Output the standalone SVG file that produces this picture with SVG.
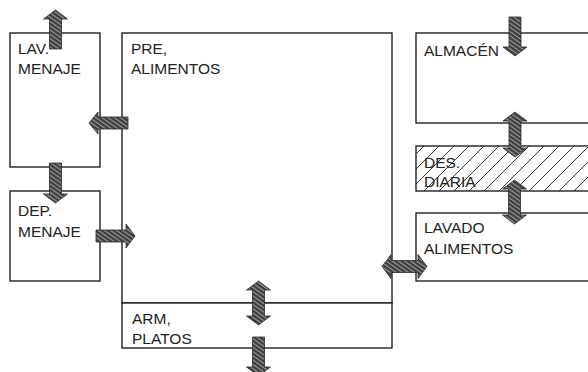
<svg xmlns="http://www.w3.org/2000/svg" width="588" height="372" viewBox="0 0 588 372">
<defs>
<pattern id="hatch" patternUnits="userSpaceOnUse" width="15" height="15">
<path d="M-2,17 L17,-2 M-2,2 L2,-2 M13,17 L17,13" stroke="#333" stroke-width="1"/>
</pattern>
<pattern id="arrhatch" patternUnits="userSpaceOnUse" width="3.5" height="3.5" patternTransform="rotate(-55)">
<rect width="3.5" height="3.5" fill="#3c3c3c"/>
<rect width="1.2" height="3.5" fill="#9a9a9a"/>
</pattern>
<style>
.box{fill:#fff;stroke:#111;stroke-width:1.3}
.hbox{fill:url(#hatch);stroke:#111;stroke-width:1.3}
.lbl{font-family:"Liberation Sans",Arial,sans-serif;font-size:15.5px;fill:#222}
.arr{fill:url(#arrhatch);stroke:#2a2a2a;stroke-width:0.8;stroke-linejoin:round}
</style>
</defs>
<rect width="588" height="372" fill="#fff"/>
<g id="lav-menaje">
<rect class="box" x="10" y="33" width="90" height="134"/>
<text class="lbl" x="18" y="53.5">LAV.</text>
<text class="lbl" x="18" y="74">MENAJE</text>
</g>
<g id="dep-menaje">
<rect class="box" x="10" y="191" width="90" height="90"/>
<text class="lbl" x="18" y="216">DEP.</text>
<text class="lbl" x="18" y="236.5">MENAJE</text>
</g>
<g id="pre-alimentos">
<rect class="box" x="122" y="33" width="270" height="270"/>
<text class="lbl" x="131" y="53.5">PRE,</text>
<text class="lbl" x="131" y="74">ALIMENTOS</text>
</g>
<g id="arm-platos">
<rect class="box" x="122" y="303" width="270" height="45"/>
<text class="lbl" x="132" y="323.5">ARM,</text>
<text class="lbl" x="132" y="343.5">PLATOS</text>
</g>
<g id="almacen">
<rect class="box" x="416" y="33" width="180" height="90"/>
<text class="lbl" x="424" y="56">ALMACÉN</text>
</g>
<g id="des-diaria">
<rect class="hbox" x="416" y="146" width="180" height="45"/>
<text class="lbl" x="424" y="167.5">DES.</text>
<text class="lbl" x="424" y="187">DIARIA</text>
</g>
<g id="lavado-alimentos">
<rect class="box" x="416" y="213" width="180" height="68"/>
<text class="lbl" x="424" y="233">LAVADO</text>
<text class="lbl" x="424" y="254">ALIMENTOS</text>
</g>
<g id="connectors">
<path class="arr" d="M49.500,49 H61.500 V19 H67.500 L55.500,10 L43.500,19 H49.500 Z"/>
<path class="arr" d="M128,117 V129 H98 V134 L89,123 L98,112 V117 Z"/>
<path class="arr" d="M49.500,163 H61.500 V194 H67.500 L55.500,203 L43.500,194 H49.500 Z"/>
<path class="arr" d="M96,230 H126 V224 L135,236 L126,248 V242 H96 Z"/>
<path class="arr" d="M258.500,281 L270.500,290 H264.500 V316 H270.500 L258.500,325 L246.500,316 H252.500 V290 H246.500 Z"/>
<path class="arr" d="M252.500,337 H264.500 V367 H270.500 L258.500,376 L246.500,367 H252.500 Z"/>
<path class="arr" d="M382,266.500 L391,254.500 V260.500 H418 V254.500 L427,266.500 L418,278.500 V272.500 H391 V278.500 Z"/>
<path class="arr" d="M509,17 H521 V47 H527 L515,56 L503,47 H509 Z"/>
<path class="arr" d="M515,112 L527,121 H521 V148 H527 L515,157 L503,148 H509 V121 H503 Z"/>
<path class="arr" d="M514.500,180 L526.500,189 H520.500 V215 H526.500 L514.500,224 L502.500,215 H508.500 V189 H502.500 Z"/>
</g>
</svg>
